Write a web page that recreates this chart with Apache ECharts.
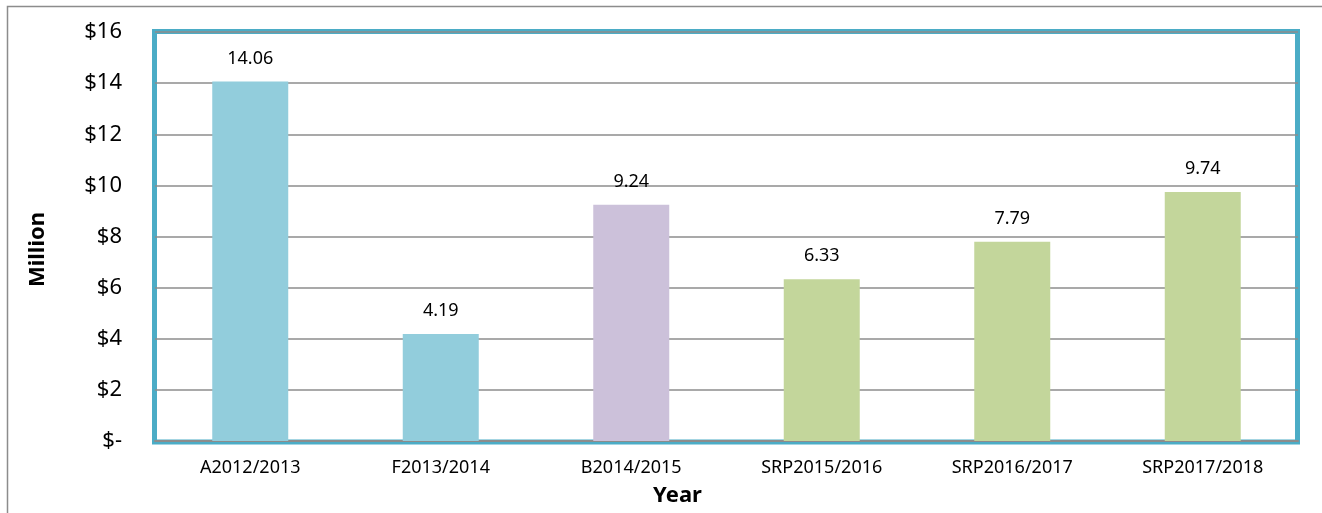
<!DOCTYPE html>
<html>
<head>
<meta charset="utf-8">
<script src="https://cdn.jsdelivr.net/npm/echarts@6/dist/echarts.min.js"></script>
<style>
  html, body { margin: 0; padding: 0; background: #fff; }
  #main { width: 1322px; height: 513px; }
</style>
</head>
<body>
<div id="main"></div>
<script>
// 年度数据
var categories = ['A2012/2013', 'F2013/2014', 'B2014/2015', 'SRP2015/2016', 'SRP2016/2017', 'SRP2017/2018'];
var values = [14.06, 4.19, 9.24, 6.33, 7.79, 9.74];
var barColors = ['#92CDDC', '#92CDDC', '#CCC1DA', '#C3D69B', '#C3D69B', '#C3D69B'];

var chart = echarts.init(document.getElementById('main'));
chart.setOption({
    animation: false,
    graphic: [{
        // 外框
        type: 'rect',
        shape: { x: 7.5, y: 6.5, width: 1330, height: 520 },
        style: { fill: 'none', stroke: '#8c8c8c', lineWidth: 1.5 },
        z: 0
    }, {
        // 绘图区边框
        type: 'rect',
        shape: { x: 154.5, y: 31.5, width: 1143, height: 410.5 },
        style: { fill: 'none', stroke: '#4BACC6', lineWidth: 5 },
        z: 0
    }],
    grid: { left: 155, right: 24, top: 32, bottom: 72 },
    xAxis: {
        type: 'category',
        data: categories,
        name: 'Year',
        nameLocation: 'middle',
        nameGap: 44,
        // 标题略偏左
        nameTextStyle: { fontFamily: 'Noto Sans', fontSize: 22, fontWeight: 'bold', color: '#000', padding: [0, 98, 0, 0] },
        axisLine: { show: true, lineStyle: { color: '#8c8c8c', width: 2 } },
        axisTick: { show: false },
        axisLabel: { fontFamily: 'Noto Sans', fontSize: 18, color: '#000', margin: 18 }
    },
    yAxis: {
        type: 'value',
        min: 0,
        max: 16,
        interval: 2,
        name: 'Million',
        nameLocation: 'middle',
        nameGap: 106,
        // 标题略偏下
        nameTextStyle: { fontFamily: 'Noto Sans', fontSize: 22, fontWeight: 'bold', color: '#000', padding: [0, 26, 0, 0] },
        axisLine: { show: false },
        axisTick: { show: false },
        splitLine: { lineStyle: { color: '#8c8c8c', width: 1.5 } },
        axisLabel: {
            fontFamily: 'Noto Sans', fontSize: 22, color: '#000', margin: 33,
            formatter: function (v) { return v === 0 ? '$-' : '$' + v; }
        }
    },
    series: [{
        type: 'bar',
        data: values.map(function (v, i) { return { value: v, itemStyle: { color: barColors[i] } }; }),
        barWidth: 76,
        label: {
            show: true,
            position: 'top',
            distance: 14,
            fontFamily: 'Noto Sans',
            fontSize: 18,
            color: '#000',
            formatter: function (p) { return p.value.toFixed(2); }
        }
    }]
});
</script>
</body>
</html>
